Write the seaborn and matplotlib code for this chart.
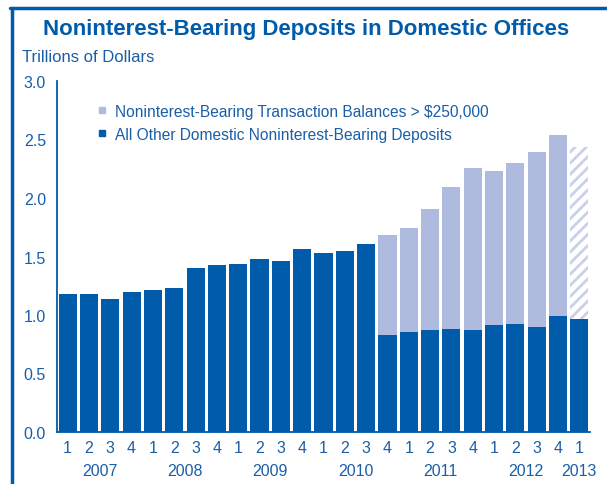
import numpy as np
import pandas as pd
import matplotlib.pyplot as plt
from matplotlib.lines import Line2D
import seaborn as sns

# Quarterly data, trillions of dollars
quarters = ["1", "2", "3", "4"] * 6 + ["1"]
years = ["2007", "2008", "2009", "2010", "2011", "2012", "2013"]
other_deposits = [1.18, 1.18, 1.14, 1.20, 1.21, 1.23, 1.40, 1.43,
                  1.44, 1.48, 1.46, 1.56, 1.53, 1.55, 1.61, 0.83,
                  0.855, 0.87, 0.88, 0.87, 0.915, 0.92, 0.90, 0.99, 0.97]
total_deposits = [1.18, 1.18, 1.14, 1.20, 1.21, 1.23, 1.40, 1.43,
                  1.44, 1.48, 1.46, 1.56, 1.53, 1.55, 1.61, 1.68,
                  1.74, 1.91, 2.09, 2.26, 2.23, 2.30, 2.39, 2.54, 2.44]

dark = "#005BAA"
light = "#AEBBDE"
hatch_col = "#C8D1EA"
txt = "#1A5EA8"

periods = [f"p{i}" for i in range(len(quarters))]
df = pd.DataFrame({"period": periods, "other": other_deposits, "total": total_deposits})

sns.set_style("white")
plt.rcParams['font.family'] = ['Liberation Sans', 'DejaVu Sans']
plt.rcParams['hatch.linewidth'] = 2.0

fig = plt.figure(figsize=(6.07, 4.85), dpi=100)
ax = fig.add_axes([57 / 607, 1 - 433 / 485, 533 / 607, 351 / 485])

sns.barplot(data=df, x="period", y="total", color=light, width=0.85,
            saturation=1, linewidth=0, ax=ax)
sns.barplot(data=df, x="period", y="other", color=dark, width=0.85,
            saturation=1, linewidth=0, ax=ax)

# last (estimated) total bar is hatched
last = ax.patches[len(periods) - 1]
last.set_facecolor("white")
last.set_edgecolor(hatch_col)
last.set_hatch("///")
last.set_linewidth(0)

ax.set_xlim(-0.5, len(periods) - 0.5)
ax.set_ylim(0, 3.0)
ax.set_yticks(np.arange(0, 3.01, 0.5))
ax.set_yticklabels([f"{v:.1f}" for v in np.arange(0, 3.01, 0.5)])
ax.set_xticks(range(len(periods)))
ax.set_xticklabels(quarters)
ax.set_xticks(np.arange(-0.5, len(periods), 1), minor=True)
ax.tick_params(axis="x", which="major", length=0, pad=6, labelsize=11.5, labelcolor=txt)
ax.tick_params(axis="x", which="minor", length=5, width=1.3, color=dark, direction="out")
ax.tick_params(axis="y", length=5, width=1.3, color=dark, direction="out",
               labelsize=11.5, labelcolor=txt, pad=3)
ax.set_xlabel("")
ax.set_ylabel("")
sns.despine(ax=ax)
for s in ["left", "bottom"]:
    ax.spines[s].set_color(dark)
    ax.spines[s].set_linewidth(1.3)

# year labels under quarter labels
year_pos = [2 - 0.5 + 4 * i for i in range(6)] + [24]
for yr, xp in zip(years, year_pos):
    ax.text(xp, -38 / 351, yr, ha="center", va="center", fontsize=11.5, color=txt,
            transform=ax.get_xaxis_transform())

# legend
handles = [Line2D([], [], marker="s", ls="", color=light, markersize=5),
           Line2D([], [], marker="s", ls="", color=dark, markersize=5)]
labels = ["Noninterest-Bearing Transaction Balances > $250,000",
          "All Other Domestic Noninterest-Bearing Deposits"]
leg = ax.legend(handles, labels, loc="upper left", bbox_to_anchor=(0.043, 0.975),
                frameon=False, fontsize=11.2, handletextpad=0.35, labelspacing=0.5,
                handlelength=1.0)
for t in leg.get_texts():
    t.set_color(txt)

fig.text(306 / 607, 1 - 29 / 485, "Noninterest-Bearing Deposits in Domestic Offices",
         ha="center", va="center", fontsize=16, fontweight="bold", color=dark)
fig.text(22 / 607, 1 - 58 / 485, "Trillions of Dollars", ha="left", va="center",
         fontsize=12, color=txt)

# frame lines
fig.add_artist(Line2D([10 / 607, 1], [1 - 9 / 485, 1 - 9 / 485], color=dark, lw=2.5))
fig.add_artist(Line2D([12 / 607, 12 / 607], [0, 1 - 9 / 485], color=dark, lw=2.5))

fig.savefig("out.png", dpi=100)
